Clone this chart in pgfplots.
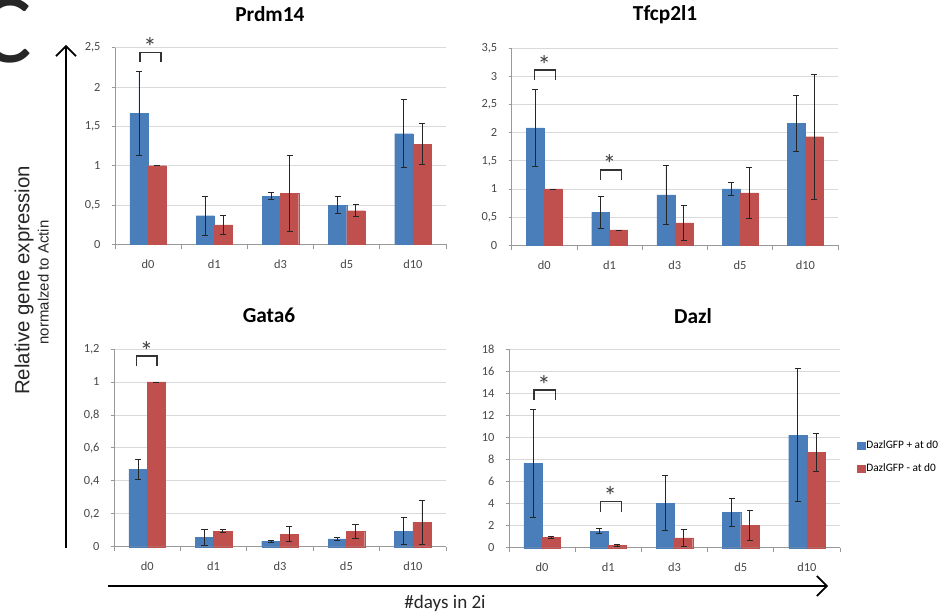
\documentclass[border=0pt]{standalone}
\usepackage{fontspec}
\setmainfont{Carlito}
\newfontfamily\arialf{Liberation Sans}
\usepackage{pgfplots}
\pgfplotsset{compat=1.18}
\usepackage{pgfplotstable}
\usetikzlibrary{arrows.meta}
\definecolor{xblue}{RGB}{74,126,187}
\definecolor{xred}{RGB}{192,80,77}

\pgfplotstableread{
x b be r re
0 1.665 0.53 1.0 0.0
1 0.364 0.25 0.246 0.12
2 0.614 0.043 0.648 0.48
3 0.50 0.11 0.428 0.078
4 1.407 0.43 1.275 0.26
}\prdm
\pgfplotstableread{
x b be r re
0 2.084 0.68 1.0 0.0
1 0.586 0.28 0.272 0.0
2 0.894 0.52 0.397 0.31
3 1.0 0.11 0.93 0.45
4 2.167 0.49 1.93 1.11
}\tfcp
\pgfplotstableread{
x b be r re
0 0.471 0.062 1.0 0.0
1 0.059 0.048 0.095 0.008
2 0.034 0.006 0.077 0.046
3 0.047 0.01 0.095 0.042
4 0.095 0.082 0.15 0.134
}\gata
\pgfplotstableread{
x b be r re
0 7.68 4.9 0.94 0.08
1 1.51 0.24 0.21 0.12
2 4.05 2.5 0.88 0.77
3 3.21 1.27 2.03 1.33
4 10.22 6.03 8.65 1.72
}\dazl

\newcommand{\sig}[4]{%
  \draw[black!80, line width=1.1pt] ([yshift=-7.5pt]axis cs:#1,#3) -- (axis cs:#1,#3) -- (axis cs:#2,#3) -- ([yshift=-7.5pt]axis cs:#2,#3);
  \node[anchor=base, inner sep=0pt, font=\fontsize{20}{20}\selectfont, text=black!75, yshift=-3pt] at (axis cs:#4,#3) {*};
}

\pgfplotsset{
  xl/.style={
    scale only axis, width=248pt, height=148pt,
    xmin=-0.5, xmax=4.5, ymin=0,
    axis x line*=bottom, axis y line*=left,
    axis line style={draw=black!40, line width=0.6pt},
    ymajorgrids, grid style={draw=black!15, line width=0.6pt},
    xtick={0,1,2,3,4}, xticklabels={d0,d1,d3,d5,d10},
    minor xtick={-0.5,0.5,1.5,2.5,3.5,4.5},
    tick align=outside,
    major tick length=2.3pt, minor tick length=3.2pt,
    major x tick style={draw=none},
    minor x tick style={draw=black!40, line width=0.6pt},
    y tick style={draw=black!40, line width=0.6pt},
    tick label style={font=\fontsize{9.3}{11}\selectfont, text=black!72},
    xticklabel style={anchor=north, inner sep=0pt, yshift=-9pt},
    yticklabel style={anchor=east, inner sep=0pt, xshift=-8.4pt},
    /pgf/number format/use comma,
    /pgf/number format/fixed,
    /pgf/number format/precision=1,
    /pgf/number format/assume math mode=true,
    ybar, bar width=0.275,
    title style={font=\fontsize{16}{18}\selectfont\bfseries, text=black, anchor=center, yshift=19pt},
    clip=false,
    error bars/y dir=both, error bars/y explicit,
    error bars/error bar style={draw=black!85, line width=0.55pt},
    error bars/error mark options={rotate=90, mark size=2.3pt, draw=black!85, line width=0.55pt},
  },
  bb/.style={fill=xblue, draw=xblue, line width=0.2pt, bar shift=-0.1375},
  rr/.style={fill=xred, draw=xred, line width=0.2pt, bar shift=0.1375},
}

\begin{document}
\begin{tikzpicture}
\useasboundingbox (0,0) rectangle (705.75pt,461.25pt);

% Prdm14
\begin{axis}[xl, at={(86.25pt,278pt)}, anchor=south west, width=248.25pt, height=147.5pt,
  ymax=2.5, ytick={0,0.5,1,1.5,2,2.5},
  title={Prdm14}, title style={at={(0.468,1)}}]
\addplot[bb] table[x=x, y=b, y error=be] {\prdm};
\addplot[rr] table[x=x, y=r, y error=re] {\prdm};
\sig{-0.12}{0.195}{2.44}{0.03}
\end{axis}

% Tfcp2l1
\begin{axis}[xl, at={(383.8pt,277.3pt)}, anchor=south west, width=244.7pt, height=147.75pt,
  ymax=3.5, ytick={0,0.5,1,1.5,2,2.5,3,3.5},
  title={Tfcp2l1}, title style={at={(0.47,1)}}]
\addplot[bb] table[x=x, y=b, y error=be] {\tfcp};
\addplot[rr] table[x=x, y=r, y error=re] {\tfcp};
\sig{-0.15}{0.17}{3.11}{0.0}
\sig{0.86}{1.18}{1.34}{1.0}
\end{axis}

% Gata6
\begin{axis}[xl, at={(85.5pt,51.2pt)}, anchor=south west, width=249pt, height=148.3pt,
  ymax=1.2, ytick={0,0.2,0.4,0.6,0.8,1,1.2},
  title={Gata6}, title style={at={(0.467,1)}}]
\addplot[bb] table[x=x, y=b, y error=be] {\gata};
\addplot[rr] table[x=x, y=r, y error=re] {\gata};
\sig{-0.16}{0.15}{1.157}{-0.01}
\end{axis}

% Dazl
\begin{axis}[xl, at={(381.75pt,50.5pt)}, anchor=south west, width=248.25pt, height=148.8pt,
  ymax=18, ytick={0,2,4,6,8,10,12,14,16,18},
  title={Dazl}, title style={at={(0.556,1)}},
  legend style={at={(1.052,0.457)}, anchor=west, draw=none, fill=none,
    font=\fontsize{8.5}{10}\selectfont, row sep=8pt, inner sep=0pt,
    nodes={inner sep=1pt}},
  legend cell align=left]
\addplot[bb, legend image code/.code={\fill[xblue] (0pt,-2.7pt) rectangle (5.4pt,2.7pt);}] table[x=x, y=b, y error=be] {\dazl};
\addlegendentry{DazlGFP + at d0}
\addplot[rr, legend image code/.code={\fill[xred] (0pt,-2.7pt) rectangle (5.4pt,2.7pt);}] table[x=x, y=r, y error=re] {\dazl};
\addlegendentry{DazlGFP - at d0}
\sig{-0.12}{0.2}{14.3}{0.03}
\sig{0.88}{1.2}{4.17}{1.03}
\end{axis}

% big C
\node[anchor=base east, inner sep=0pt, font=\fontsize{74}{74}\selectfont, text=black!85] at (24pt,414pt) {C};

% arrows
\draw[black, line width=1.3pt, -{Straight Barb[length=7.5pt, width=15pt]}] (49.5pt,50.25pt) -- (49.5pt,427.5pt);
\draw[black, line width=1.3pt, -{Straight Barb[length=7.5pt, width=15pt]}] (81pt,21.75pt) -- (621pt,21.75pt);

% axis labels
\node[rotate=90, font=\arialf\fontsize{15.3}{17}\selectfont, text=black!85] at (18pt,251pt) {Relative gene expression};
\node[rotate=90, font=\arialf\fontsize{11.2}{13}\selectfont, text=black!85] at (32.5pt,249.4pt) {normalzed to Actin};
\node[font=\fontsize{14.3}{16}\selectfont, text=black!85] at (333.75pt,9pt) {\#days in 2i};
\end{tikzpicture}
\end{document}
